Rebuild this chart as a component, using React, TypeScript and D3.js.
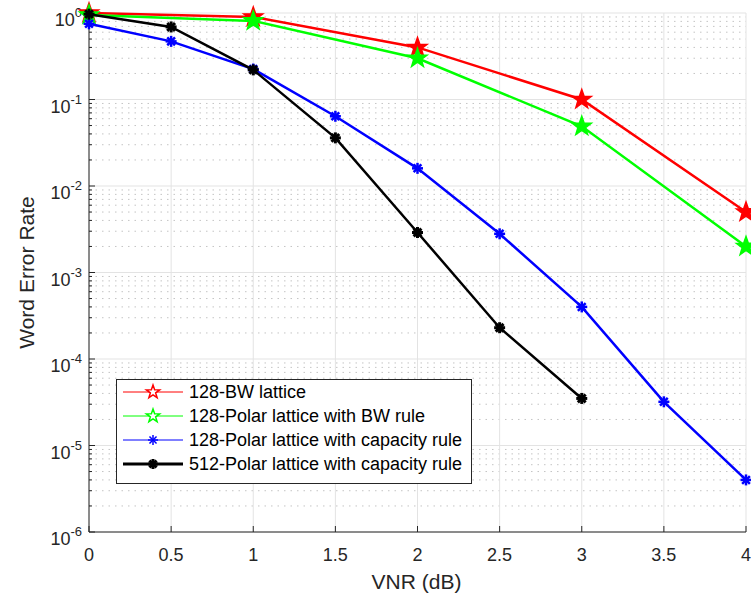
import React from "react";
import * as d3 from "d3";

const xs = [0, 0.5, 1, 1.5, 2, 2.5, 3, 3.5, 4];
const bwX = [0, 1, 2, 3, 4];
const bwLattice = [1.0, 0.9, 0.4, 0.1, 0.005];
const polarBW = [0.95, 0.81, 0.3, 0.049, 0.002];
const polarCap128 = [0.75, 0.47, 0.225, 0.064, 0.016, 0.0028, 0.0004, 3.2e-5, 4e-6];
const capX512 = [0, 0.5, 1, 1.5, 2, 2.5, 3];
const polarCap512 = [0.97, 0.69, 0.22, 0.036, 0.0029, 0.00023, 3.5e-5];
const xTicks = [0, 0.5, 1, 1.5, 2, 2.5, 3, 3.5, 4];
const yExps = [0, -1, -2, -3, -4, -5, -6];

const seriesNames = [
  "128-BW lattice",
  "128-Polar lattice with BW rule",
  "128-Polar lattice with capacity rule",
  "512-Polar lattice with capacity rule",
];

const L = 89, R = 746, T = 13, B = 532;
const FONT = "'Liberation Sans', Arial, Helvetica, sans-serif";

function starPath(cx: number, cy: number, r: number) {
  const pts: string[] = [];
  for (let i = 0; i < 10; i++) {
    const rr = i % 2 === 0 ? r : r * 0.4;
    const a = -Math.PI / 2 + (i * Math.PI) / 5;
    pts.push(`${cx + rr * Math.cos(a)},${cy + rr * Math.sin(a)}`);
  }
  return "M" + pts.join("L") + "Z";
}

function Asterisk({ cx, cy, r, color, w }: any) {
  const lines = [];
  for (let i = 0; i < 4; i++) {
    const a = (i * Math.PI) / 4;
    lines.push(
      <line key={i} x1={cx - r * Math.cos(a)} y1={cy - r * Math.sin(a)} x2={cx + r * Math.cos(a)} y2={cy + r * Math.sin(a)} stroke={color} strokeWidth={w} />
    );
  }
  return <g>{lines}</g>;
}

export default function App() {
  const x = d3.scaleLinear().domain([0, 4]).range([L, R]);
  const y = d3.scaleLog().domain([1e-6, 1]).range([B, T]);

  const minor: number[] = [];
  for (let e = -6; e < 0; e++) for (let m = 2; m <= 9; m++) minor.push(m * Math.pow(10, e));

  const line = d3.line<[number, number]>().x((d) => x(d[0])).y((d) => y(d[1]));
  const red = bwX.map((v, i) => [v, bwLattice[i]] as [number, number]);
  const green = bwX.map((v, i) => [v, polarBW[i]] as [number, number]);
  const blue = xs.map((v, i) => [v, polarCap128[i]] as [number, number]);
  const black = capX512.map((v, i) => [v, polarCap512[i]] as [number, number]);

  const legendY = [392, 416, 440, 464];

  return (
    <svg width={751} height={604} style={{ position: "absolute", left: 0, top: 0, background: "#fff" }} fontFamily={FONT}>
      <rect x={0} y={0} width={751} height={604} fill="#fff" />
      {/* minor grid */}
      {minor.map((v, i) => (
        <line key={"m" + i} x1={L} x2={R} y1={y(v)} y2={y(v)} stroke="#c4c4c4" strokeWidth={1} strokeDasharray="1.5 5" />
      ))}
      {/* major grid */}
      {yExps.map((e) => (
        <line key={"gy" + e} x1={L} x2={R} y1={y(Math.pow(10, e))} y2={y(Math.pow(10, e))} stroke="#e3e3e3" strokeWidth={1} />
      ))}
      {xTicks.map((t) => (
        <line key={"gx" + t} x1={x(t)} x2={x(t)} y1={T} y2={B} stroke="#e3e3e3" strokeWidth={1} />
      ))}
      {/* axes */}
      <line x1={L} x2={R} y1={B} y2={B} stroke="#262626" strokeWidth={1} />
      <line x1={L} x2={L} y1={T} y2={B} stroke="#262626" strokeWidth={1} />
      {xTicks.map((t) => (
        <g key={"xt" + t}>
          <line x1={x(t)} x2={x(t)} y1={B} y2={B - 6} stroke="#262626" />
          <text x={x(t)} y={B + 29} textAnchor="middle" fontSize={18} fill="#262626">{String(t)}</text>
        </g>
      ))}
      {yExps.map((e) => (
        <g key={"yt" + e}>
          <line x1={L} x2={L + 6} y1={y(Math.pow(10, e))} y2={y(Math.pow(10, e))} stroke="#262626" />
          <text x={L - 7} y={y(Math.pow(10, e)) + 13} textAnchor="end" fontSize={18} fill="#262626">
            10<tspan dy={-9} fontSize={13}>{String(e)}</tspan>
          </text>
        </g>
      ))}
      {minor.map((v, i) => (
        <line key={"mt" + i} x1={L} x2={L + 3} y1={y(v)} y2={y(v)} stroke="#262626" />
      ))}
      <text x={(L + R) / 2 - 1} y={589} textAnchor="middle" fontSize={21} fill="#262626">VNR (dB)</text>
      <text transform={`translate(34,${(T + B) / 2}) rotate(-90)`} textAnchor="middle" fontSize={21} fill="#262626">Word Error Rate</text>

      {/* series */}
      <path d={line(red) || ""} fill="none" stroke="#ff0000" strokeWidth={2.5} />
      {red.map((d, i) => (
        <path key={"r" + i} d={starPath(x(d[0]), y(d[1]), 10)} fill="#ff0000" stroke="#ff0000" strokeWidth={1.5} />
      ))}
      <path d={line(green) || ""} fill="none" stroke="#00ff00" strokeWidth={2.5} />
      {green.map((d, i) => (
        <path key={"g" + i} d={starPath(x(d[0]), y(d[1]), 10)} fill="#00ff00" stroke="#00ff00" strokeWidth={1.5} />
      ))}
      <path d={line(blue) || ""} fill="none" stroke="#0000ff" strokeWidth={2.5} />
      {blue.map((d, i) => (
        <Asterisk key={"b" + i} cx={x(d[0])} cy={y(d[1])} r={5.5} color="#0000ff" w={2.5} />
      ))}
      <path d={line(black) || ""} fill="none" stroke="#000000" strokeWidth={2.5} />
      {black.map((d, i) => (
        <Asterisk key={"k" + i} cx={x(d[0])} cy={y(d[1])} r={5.5} color="#000000" w={3} />
      ))}

      {/* legend */}
      <rect x={116.5} y={379.5} width={355} height={104} fill="#fff" stroke="#262626" strokeWidth={1} />
      {seriesNames.map((n, i) => {
        const ly = legendY[i];
        const colors = ["#ff0000", "#00ff00", "#0000ff", "#000000"];
        return (
          <g key={"lg" + i}>
            <line x1={123} x2={183} y1={ly} y2={ly} stroke={colors[i]} strokeWidth={i === 3 ? 3 : 1} />
            {i < 2 ? (
              <path d={starPath(153, ly, 7)} fill="#fff" stroke={colors[i]} strokeWidth={1.5} />
            ) : (
              <Asterisk cx={153} cy={ly} r={5} color={colors[i]} w={i === 3 ? 3 : 1.5} />
            )}
            <text x={189} y={ly + 6} fontSize={18} fill="#000">{n}</text>
          </g>
        );
      })}
    </svg>
  );
}
